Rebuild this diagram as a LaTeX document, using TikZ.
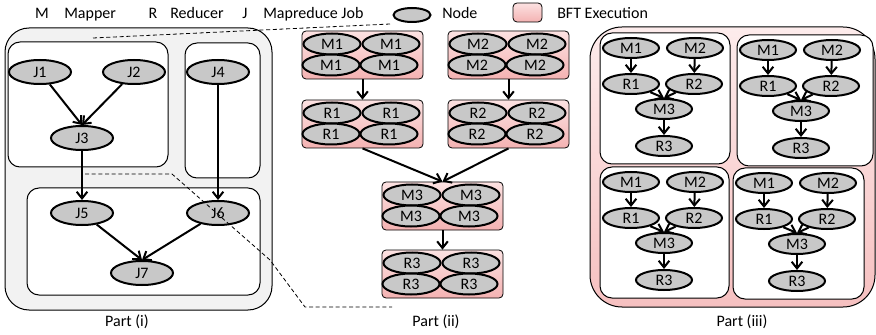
\documentclass[tikz,border=0pt]{standalone}
\usepackage{fontspec}
\setmainfont{Carlito}
\usetikzlibrary{shapes.geometric,arrows.meta}
\definecolor{nodegray}{HTML}{C8C8C8}
\definecolor{pinktop}{HTML}{FCE2E2}
\definecolor{pinkbot}{HTML}{F4B2B2}
\definecolor{pinkpale}{HTML}{FDECEC}
\definecolor{pinkdeep}{HTML}{F6C0C0}
\definecolor{panelgray}{HTML}{F2F2F2}
\begin{document}
\begin{tikzpicture}[x=0.75pt,y=-0.75pt,
  font=\fontsize{12}{14}\selectfont,
  oval/.style={ellipse,draw,line width=1.5pt,fill=nodegray,inner sep=0pt},
  job/.style={oval,minimum width=46.5pt,minimum height=18pt},
  task/.style={oval,minimum width=42.75pt,minimum height=15.75pt},
  mini/.style={oval,minimum width=42pt,minimum height=15pt},
  bft/.style={draw,line width=0.6pt,rounded corners=3pt,top color=pinktop,
    bottom color=pinkbot,minimum width=90.75pt,minimum height=36pt,inner sep=0pt},
  flow/.style={line width=1.5pt,-{Straight Barb[length=5pt,width=8pt]}},
  group/.style={draw,line width=0.75pt,fill=white,rounded corners=9pt},
  zoomline/.style={line width=0.6pt,dash pattern=on 3pt off 2pt},
  keytext/.style={inner sep=0pt},
  pics/flowgraph/.style={code={
    \draw[group] (0,0) rectangle (#1,131);
    \node[mini] (-M1) at (31,15) {M1};
    \node[mini] (-M2) at (95,15) {M2};
    \node[mini] (-R1) at (31,51) {R1};
    \node[mini] (-R2) at (94,51) {R2};
    \node[mini] (-M3) at (64,76) {M3};
    \node[mini] (-R3) at (64,113) {R3};
    \draw[flow] (-M1) -- (-R1);
    \draw[flow] (-M2) -- (-R2);
    \draw[flow] (-R1) -- (-M3.north);
    \draw[flow] (-R2) -- (-M3.north);
    \draw[flow] (-M3) -- (-R3);
  }},
]
\useasboundingbox (0,0) rectangle (876,335);

% ---- legend ----
\node[keytext,anchor=base] (kM) at (42,19) {M};
\node[keytext,anchor=base west] (kMt) at (64,19) {Mapper};
\node[keytext,anchor=base] (kR) at (153,19) {R};
\node[keytext,anchor=base west] (kRt) at (170,19) {Reducer};
\node[keytext,anchor=base] (kJ) at (245,19) {J};
\node[keytext,anchor=base west] (kJt) at (263,19) {Mapreduce Job};
\node[oval,minimum width=27.75pt,minimum height=10.5pt] (kN) at (412,15) {};
\node[keytext,anchor=base west] (kNt) at (442,19) {Node};
\node[draw,line width=0.6pt,rounded corners=3pt,top color=pinktop,bottom color=pinkbot,
  minimum width=21.75pt,minimum height=14.25pt,inner sep=0pt] (kB) at (527.5,12.5) {};
\node[keytext,anchor=base west] (kBt) at (557,19) {BFT Execution};

% ---- Part (i): job graph ----
\draw[line width=0.75pt,fill=panelgray,rounded corners=18pt] (5,28) rectangle (272,310);
\draw[group] (8,42) rectangle (168,167);
\draw[group] (185,43) rectangle (260,178);
\draw[group] (27,188) rectangle (260,295);
\node[job] (J1) at (40,72) {J1};
\node[job] (J2) at (134,72) {J2};
\node[job] (J3) at (82,138) {J3};
\node[job] (J4) at (218,72) {J4};
\node[job] (J5) at (82,213) {J5};
\node[job] (J6) at (218,213) {J6};
\node[job] (J7) at (142,273) {J7};
\draw[flow] (J1) -- (J3.north);
\draw[flow] (J2) -- (J3.north);
\draw[flow] (J3) -- (J5);
\draw[flow] (J4) -- (J6);
\draw[flow] (J5) -- (J7.north);
\draw[flow] (J6) -- (J7.north);
\node (lab1) at (127,322) {Part (i)};

% zoom guides from J3's group to the expanded view
\coordinate (za) at (93,38);
\coordinate (zb) at (390,24);
\coordinate (zc) at (85,174);
\coordinate (zd) at (172,174);
\coordinate (ze) at (270,260);
\coordinate (zf) at (305,307);
\coordinate (zg) at (392,307);
\draw[zoomline] (za) -- (zb);
\draw[zoomline] (zc) -- (zd) -- (ze) -- (zf) -- (zg);

% ---- Part (ii): replicated stages ----
\foreach \n/\lab/\cx/\cy in {m1/M1/362.5/55, m2/M2/508.5/55, r1/R1/362.5/124,
    r2/R2/508.5/124, m3/M3/442.5/206, r3/R3/442.5/274} {
  \node[bft] (\n) at (\cx,\cy) {};
  \node[task] (\n-a) at (\cx-30.5,\cy-11) {\lab};
  \node[task] (\n-b) at (\cx+28.5,\cy-11) {\lab};
  \node[task] (\n-c) at (\cx-31.5,\cy+10) {\lab};
  \node[task] (\n-d) at (\cx+26.5,\cy+10) {\lab};
}
\draw[flow] (m1) -- (r1);
\draw[flow] (m2) -- (r2);
\draw[flow] (r1.south) -- (m3.north);
\draw[flow] (r2.south) -- (m3.north);
\draw[flow] (m3) -- (r3);
\node (lab2) at (436,322) {Part (ii)};

% ---- Part (iii): whole graph inside BFT execution ----
\draw[line width=0.75pt,rounded corners=24pt,top color=pinkpale,bottom color=pinkdeep]
  (590,27) rectangle (875,307);
\pic (q1) at (600,33) {flowgraph=130};
\pic (q2) at (737,35) {flowgraph=136};
\pic (q3) at (600,167) {flowgraph=129};
\pic (q4) at (733,168) {flowgraph=131};
\node (lab3) at (742,322) {Part (iii)};
\end{tikzpicture}
\end{document}
